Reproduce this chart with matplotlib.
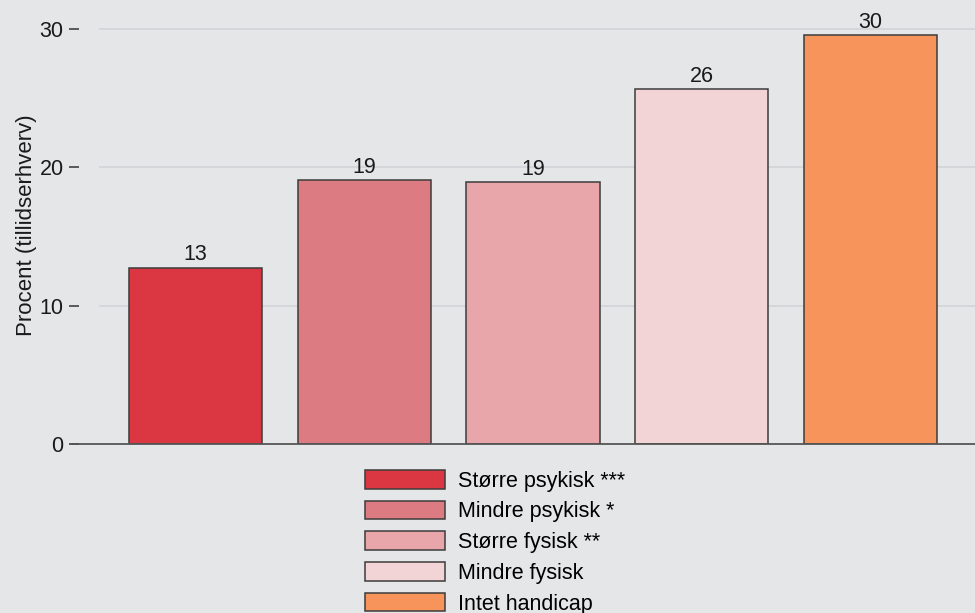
import numpy as np
import matplotlib.pyplot as plt
from matplotlib.patches import Patch

plt.rcParams['font.family'] = ['Liberation Sans', 'DejaVu Sans']

# share with tillidserhverv, by handicap group
groups = ["Større psykisk ***", "Mindre psykisk *", "Større fysisk **",
          "Mindre fysisk", "Intet handicap"]
values = [12.75, 19.1, 18.9, 25.65, 29.55]
colors = ["#da3743", "#dc7b81", "#e8a6ab", "#f2d3d6", "#f6945b"]

bg = "#e5e6e8"
fs = 15.5
fig = plt.figure(figsize=(9.75, 6.13), dpi=100, facecolor=bg)
ax = fig.add_axes([79 / 975, 1 - 444 / 613, 1 - 79 / 975, 429 / 613])
ax.set_facecolor(bg)

x = np.arange(1, len(values) + 1)
ax.set_xlim(0.31, 5.62)
ax.set_ylim(0, 31.0)

for yv in [10, 20, 30]:
    ax.axhline(yv, xmin=21 / 896, xmax=1, color="#d3d5d8", lw=1.3, zorder=0)

ax.bar(x, values, width=0.79, color=colors, edgecolor="#3c3c3c",
       linewidth=1.1, zorder=2)
for xi, v in zip(x, values):
    ax.text(xi, v + 0.15, f"{v:.0f}", ha="center", va="bottom",
            fontsize=fs, color="#1a1a1a")

for s in ["top", "right", "left", "bottom"]:
    ax.spines[s].set_visible(False)
# x axis line runs a little past the y ticks
ax.plot([-7 / 896, 1], [0, 0], transform=ax.transAxes, color="#555555",
        lw=1.3, clip_on=False, zorder=3)

ax.set_xticks([])
ax.set_yticks([0, 10, 20, 30])
ax.tick_params(axis="y", length=7, width=1.1, color="#333333", pad=4,
               labelsize=fs, labelcolor="#1a1a1a")
ax.set_ylabel("Procent (tillidserhverv)", fontsize=16, color="#1a1a1a")
ax.yaxis.set_label_coords(-0.0465, 0.51)

handles = [Patch(facecolor=c, edgecolor="#3c3c3c", linewidth=1.1) for c in colors]
fig.legend(handles, groups, loc="upper left",
           bbox_to_anchor=(365 / 975, 1 - 470 / 613), frameon=False,
           fontsize=fs, handlelength=3.7, handleheight=0.95,
           handletextpad=0.6, labelspacing=0.42, borderpad=0,
           borderaxespad=0)

fig.savefig("out.png", dpi=100, facecolor=bg)
